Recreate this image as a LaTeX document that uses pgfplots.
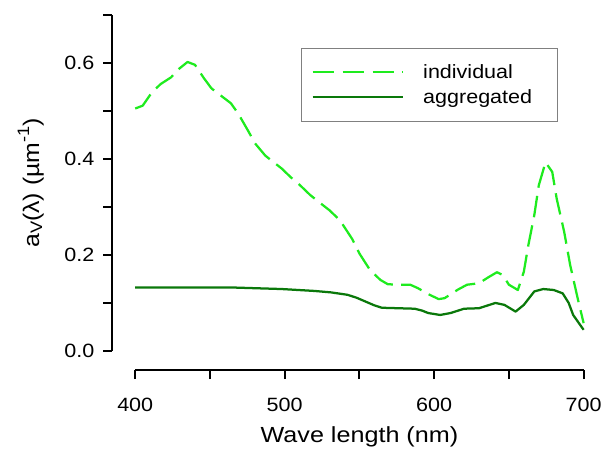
\documentclass[border=0pt]{standalone}
\usepackage{fontspec}
\setmainfont{Liberation Sans}
\newfontfamily\tickfont{Liberation Sans}[FakeStretch=1.12]
\newfontfamily\labfont{Liberation Sans}[FakeStretch=1.15]
\newfontfamily\ylabfont{Liberation Sans}[FakeStretch=1.1]
\usepackage{pgfplots}
\pgfplotsset{compat=1.18}
\definecolor{indiv}{RGB}{30,235,30}
\definecolor{aggr}{RGB}{10,120,10}

\pgfplotstableread{
x y
400 0.505
405 0.511
411 0.538
417 0.556
424 0.570
429 0.587
435 0.602
440 0.596
446 0.568
451 0.547
456 0.535
464 0.516
469 0.494
476 0.456
480 0.433
487 0.407
491 0.397
498 0.380
504 0.362
510 0.346
517 0.325
523 0.310
530 0.293
537 0.272
545 0.234
550 0.203
557 0.169
564 0.148
569 0.139
576 0.138
584 0.138
589 0.131
597 0.117
603 0.108
607 0.110
609 0.114
616 0.128
622 0.138
630 0.141
636 0.153
642 0.164
646 0.158
650 0.138
656 0.127
660 0.165
663 0.220
667 0.283
670 0.345
674.5 0.393
679 0.373
682 0.317
687 0.248
691 0.179
696 0.110
700 0.058
}\indivtab

\pgfplotstableread{
x y
400 0.132
467 0.132
498 0.129
509 0.127
520 0.125
531 0.122
542 0.117
548 0.111
554 0.103
560 0.095
565 0.090
576 0.089
587 0.088
592 0.084
596 0.079
604 0.075
611 0.079
620 0.088
630 0.089
641 0.100
647 0.096
654.5 0.082
660 0.096
667 0.124
673 0.129
680 0.127
686 0.120
690 0.100
693 0.075
700 0.044
}\aggrtab

\begin{document}
\begin{tikzpicture}
\begin{axis}[
  scale only axis, width=338.25pt, height=253.5pt,
  xmin=400, xmax=700, ymin=0, ymax=0.7,
  clip=false,
  axis lines=left,
  axis line style={-, line width=1.5pt, black},
  axis x line shift=14.25pt,
  axis y line shift=17.25pt,
  xtick={400,450,500,550,600,650,700},
  xticklabels={400,,500,,600,,700},
  ytick={0,0.1,0.2,0.3,0.4,0.5,0.6,0.7},
  yticklabels={0.0,,0.2,,0.4,,0.6,},
  tick align=outside, major tick length=7pt,
  tick style={line width=1.5pt, black},
  /pgf/number format/assume math mode=true,
  xticklabel style={yshift=-11pt, font=\tickfont\fontsize{14.5}{16}\selectfont},
  yticklabel style={xshift=-3pt, font=\tickfont\fontsize{14.5}{16}\selectfont},
  xlabel={Wave length (nm)},
  ylabel={a\raisebox{-0.25ex}{\fontsize{12.5}{13}\selectfont V}(λ) (µm\raisebox{0.85ex}{\fontsize{12.5}{13}\selectfont -1})},
  xlabel style={at={(axis description cs:0.5,-0.255)}, anchor=center, font=\labfont\fontsize{16.5}{18}\selectfont},
  ylabel style={at={(axis description cs:-0.233,0.5)}, anchor=center, font=\ylabfont\fontsize{17}{20}\selectfont},
  legend style={at={(axis cs:511,0.632)}, anchor=north west, draw=gray, line width=0.8pt,
    font=\tickfont\fontsize{14.5}{16}\selectfont, inner xsep=2pt, inner ysep=10pt, row sep=2.25pt,
    cells={anchor=west, inner ysep=1pt, text height=11pt, text depth=3.5pt}},
  legend image code/.code={\path (-5.5pt,0pt); \draw[#1] (0pt,0pt) -- (68pt,0pt); \path (80.5pt,0pt);},
]
\path (axis description cs:-0.3016,-0.3077) rectangle (axis description cs:1.0421,1.0444);
\addplot[indiv, line width=1.7pt, dash pattern=on 16.3pt off 6.25pt, line join=round] table[x=x,y=y] {\indivtab};
\addlegendentry{individual\hspace*{15pt}}
\addplot[aggr, line width=1.7pt, line join=round] table[x=x,y=y] {\aggrtab};
\addlegendentry{aggregated\hspace*{15pt}}
\end{axis}
\end{tikzpicture}
\end{document}
